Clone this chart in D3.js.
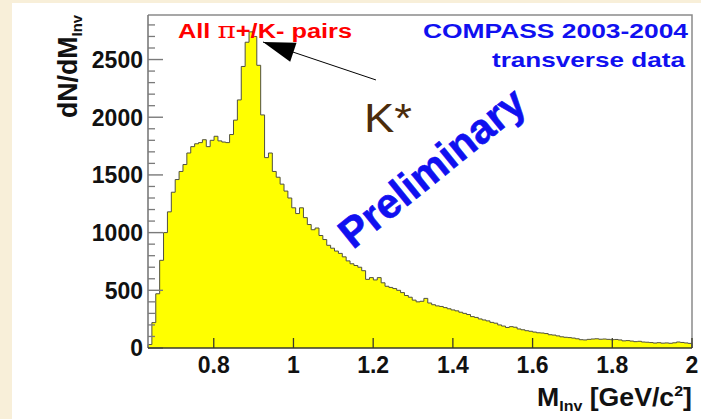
<!DOCTYPE html>
<html>
<head>
<meta charset="utf-8">
<script src="https://cdn.jsdelivr.net/npm/d3@7"></script>
<style>
  html, body { margin: 0; padding: 0; background: #ffffff; }
  svg { display: block; }
  text { font-family: "Liberation Sans", Arial, Helvetica, sans-serif; }
</style>
</head>
<body>
<svg id="chart" width="701" height="419"></svg>
<script>
// Invariant-mass range of the histogram (GeV/c^2)
const massLow = 0.635;
const massHigh = 2.0;

// Entries per bin, equal-width bins from massLow to massHigh
const counts = [
  30, 220, 470, 760, 1000, 1180, 1350, 1460, 1530, 1590,
  1690, 1745, 1770, 1780, 1805, 1745, 1800, 1835, 1795, 1785,
  1780, 1850, 1975, 2150, 2440, 2650, 2740, 2700, 2450, 2020,
  1650, 1690, 1530, 1480, 1420, 1360, 1300, 1215, 1165, 1215,
  1130, 1070, 1025, 1040, 975, 940, 890, 865, 840, 820,
  790, 755, 730, 715, 700, 670, 595, 610, 590, 610,
  565, 535, 525, 515, 500, 480, 455, 440, 415, 400,
  405, 430, 390, 375, 365, 360, 350, 340, 330, 322,
  310, 300, 290, 272, 265, 252, 243, 235, 222, 215,
  200, 190, 178, 185, 180, 165, 158, 150, 145, 138,
  132, 130, 125, 115, 112, 105, 97, 93, 90, 86,
  80, 72, 70, 75, 78, 80, 76, 78, 75, 72,
  74, 70, 62, 64, 60, 55, 58, 52, 50, 47,
  43, 46, 42, 44, 41, 45, 52, 48, 44, 40
];

// Axis ticks
const xTicks = [0.8, 1.0, 1.2, 1.4, 1.6, 1.8, 2.0];
const xTickLabels = ["0.8", "1", "1.2", "1.4", "1.6", "1.8", "2"];
const yTicks = [0, 500, 1000, 1500, 2000, 2500];
const yTickLabels = ["0", "500", "1000", "1500", "2000", "2500"];
const yMinorStep = 100;
const yMax = 2886;

// Annotation anchors in data coordinates
const arrowTip = { m: 0.9236, n: 2652 };
const arrowTail = { m: 1.207, n: 2323 };

const svg = d3.select("#chart");
const W = 701, H = 419;
const frame = { left: 148, top: 15, right: 692, bottom: 348 };

// page background with the cream margin strips
svg.append("rect").attr("width", W).attr("height", H).attr("fill", "#ffffff");
svg.append("rect").attr("x", 0).attr("y", 0).attr("width", 12).attr("height", H).attr("fill", "#f8efd9");
svg.append("rect").attr("x", 0).attr("y", 0).attr("width", W).attr("height", 3).attr("fill", "#f8efd9");

const x = d3.scaleLinear().domain([massLow, massHigh]).range([frame.left, frame.right]);
const y = d3.scaleLinear().domain([0, yMax]).range([frame.bottom, frame.top]);

const binWidth = (massHigh - massLow) / counts.length;
const edge = i => massLow + i * binWidth;

// histogram: filled area and step outline
let d = `M${x(edge(0))},${y(0)}`;
counts.forEach((c, i) => {
  d += `V${y(c)}H${x(edge(i + 1))}`;
});
d += `V${y(0)}`;
svg.append("path")
  .attr("d", d + "Z")
  .attr("fill", "#ffff00")
  .attr("stroke", "none");
svg.append("path")
  .attr("d", d)
  .attr("fill", "none")
  .attr("stroke", "#505040")
  .attr("stroke-width", 1);

// frame (top and right edges)
svg.append("path")
  .attr("d", `M${frame.left},${frame.top}H${frame.right}V${frame.bottom}`)
  .attr("fill", "none")
  .attr("stroke", "#8a8a8a")
  .attr("stroke-width", 1.5);

// y axis line and ticks (drawn inward)
svg.append("line")
  .attr("x1", frame.left).attr("x2", frame.left)
  .attr("y1", frame.top).attr("y2", frame.bottom)
  .attr("stroke", "#7a7a7a").attr("stroke-width", 1.6);

const yMinor = d3.range(0, yMax, yMinorStep).filter(v => !yTicks.includes(v));
svg.append("g").selectAll("line").data(yMinor).join("line")
  .attr("x1", frame.left).attr("x2", frame.left + 7)
  .attr("y1", v => y(v)).attr("y2", v => y(v))
  .attr("stroke", "#7a7a7a").attr("stroke-width", 1.3);
svg.append("g").selectAll("line").data(yTicks).join("line")
  .attr("x1", frame.left).attr("x2", frame.left + 15)
  .attr("y1", v => y(v)).attr("y2", v => y(v))
  .attr("stroke", "#7a7a7a").attr("stroke-width", 1.4);

svg.append("g").selectAll("text").data(yTicks).join("text")
  .attr("x", frame.left - 5)
  .attr("y", v => y(v))
  .attr("dy", "0.36em")
  .attr("text-anchor", "end")
  .attr("font-size", 23)
  .attr("font-weight", "bold")
  .attr("fill", "#111")
  .text((v, i) => yTickLabels[i]);

// x axis line and ticks (drawn inward)
svg.append("line")
  .attr("x1", frame.left).attr("x2", frame.right)
  .attr("y1", frame.bottom).attr("y2", frame.bottom)
  .attr("stroke", "#3a3a2a").attr("stroke-width", 1.4);
svg.append("g").selectAll("line").data(xTicks).join("line")
  .attr("x1", v => x(v)).attr("x2", v => x(v))
  .attr("y1", frame.bottom).attr("y2", frame.bottom - 10)
  .attr("stroke", "#3a3a2a").attr("stroke-width", 1.3);
svg.append("g").selectAll("text").data(xTicks).join("text")
  .attr("x", v => x(v))
  .attr("y", 373)
  .attr("text-anchor", "middle")
  .attr("font-size", 23)
  .attr("font-weight", "bold")
  .attr("fill", "#111")
  .text((v, i) => xTickLabels[i]);

// axis titles
const xt = svg.append("text")
  .attr("x", 537).attr("y", 406)
  .attr("textLength", 155).attr("lengthAdjust", "spacingAndGlyphs")
  .attr("font-size", 25).attr("font-weight", "bold").attr("fill", "#111");
xt.append("tspan").text("M");
xt.append("tspan").attr("font-size", 15).attr("dy", 5).text("Inv");
xt.append("tspan").attr("dy", -5).text(" [GeV/c");
xt.append("tspan").attr("font-size", 15).attr("dy", -10).text("2");
xt.append("tspan").attr("dy", 10).text("]");

const yt = svg.append("text")
  .attr("transform", `translate(77,118) rotate(-90)`)
  .attr("textLength", 103).attr("lengthAdjust", "spacingAndGlyphs")
  .attr("font-size", 27).attr("font-weight", "bold").attr("fill", "#111");
yt.append("tspan").text("dN/dM");
yt.append("tspan").attr("font-size", 15).attr("dy", 5).text("Inv");

// labels inside the frame
const lab = svg.append("text")
  .attr("x", 178).attr("y", 38)
  .attr("textLength", 174).attr("lengthAdjust", "spacingAndGlyphs")
  .attr("font-size", 20).attr("font-weight", "bold").attr("fill", "#ff0000");
lab.append("tspan").text("All ");
lab.append("tspan").attr("font-family", "DejaVu Serif").attr("font-weight", "normal").attr("font-size", 22).text("π");
lab.append("tspan").text("+/K- pairs");

svg.append("text")
  .attr("x", 423).attr("y", 38)
  .attr("textLength", 265).attr("lengthAdjust", "spacingAndGlyphs")
  .attr("font-size", 21).attr("font-weight", "bold").attr("fill", "#1010f0")
  .text("COMPASS 2003-2004");
svg.append("text")
  .attr("x", 492).attr("y", 67)
  .attr("textLength", 193).attr("lengthAdjust", "spacingAndGlyphs")
  .attr("font-size", 21).attr("font-weight", "bold").attr("fill", "#1010f0")
  .text("transverse data");

// K* annotation arrow
const tx = x(arrowTip.m), ty = y(arrowTip.n);
const sx = x(arrowTail.m), sy = y(arrowTail.n);
svg.append("line")
  .attr("x1", sx).attr("y1", sy).attr("x2", tx).attr("y2", ty)
  .attr("stroke", "#000").attr("stroke-width", 1);
const ang = Math.atan2(sy - ty, sx - tx);
const headLen = 32, headHalf = 10;
const bx = tx + headLen * Math.cos(ang), by = ty + headLen * Math.sin(ang);
const px = -Math.sin(ang) * headHalf, py = Math.cos(ang) * headHalf;
svg.append("path")
  .attr("d", `M${tx},${ty}L${bx + px},${by + py}L${bx - px},${by - py}Z`)
  .attr("fill", "#000");

svg.append("text")
  .attr("x", 364).attr("y", 132)
  .attr("textLength", 48).attr("lengthAdjust", "spacingAndGlyphs")
  .attr("font-size", 41).attr("fill", "#4b2c0c")
  .text("K*");

svg.append("text")
  .attr("transform", "translate(353,250) rotate(-39)")
  .attr("textLength", 226).attr("lengthAdjust", "spacingAndGlyphs")
  .attr("font-size", 42).attr("font-weight", "bold").attr("fill", "#1010f0")
  .attr("stroke", "#1010f0").attr("stroke-width", 0.6)
  .text("Preliminary");
</script>
</body>
</html>
